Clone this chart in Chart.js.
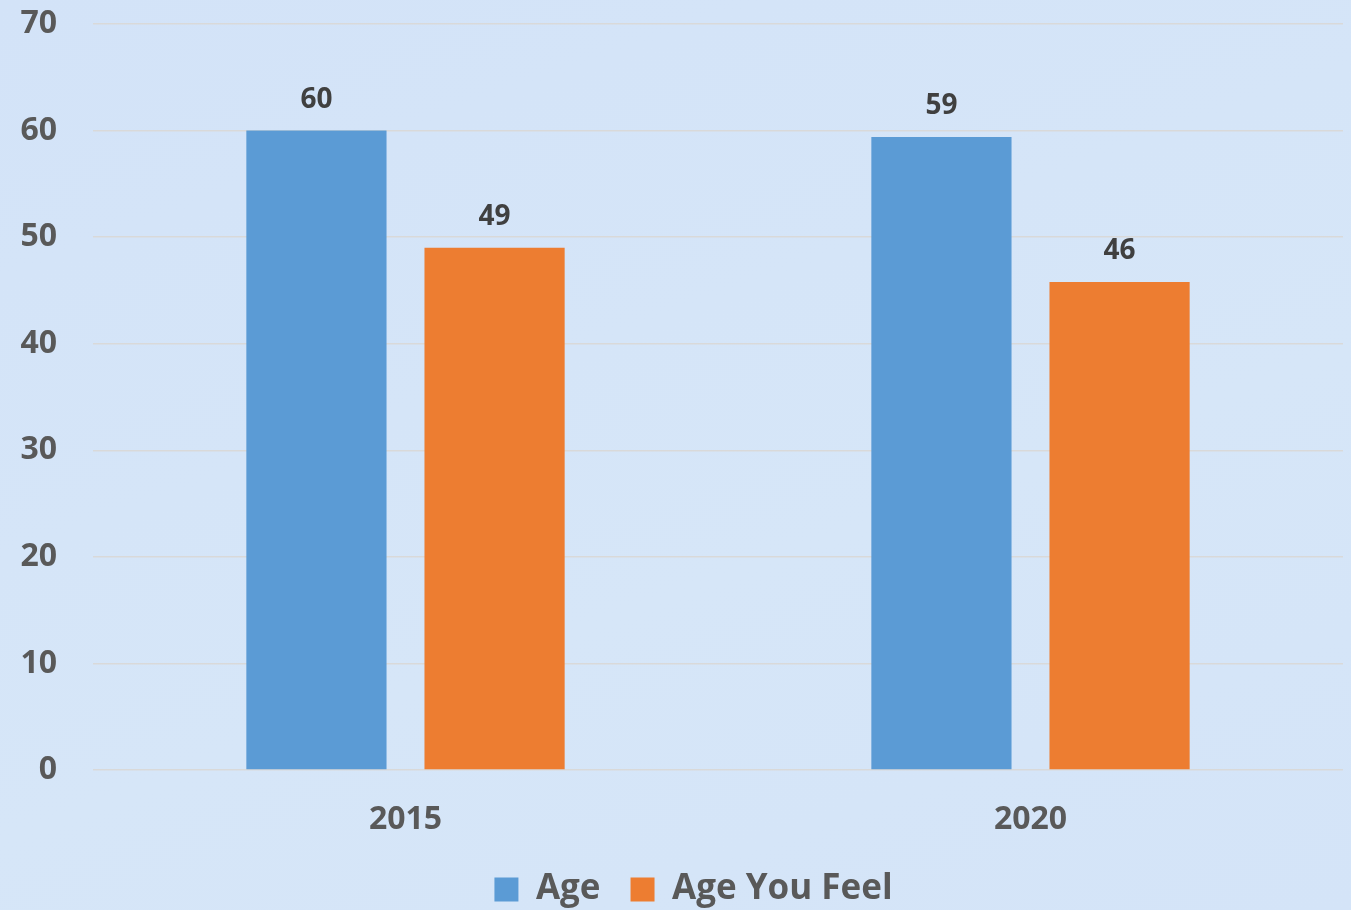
<!DOCTYPE html>
<html>
<head>
<meta charset="utf-8">
<script src="https://cdn.jsdelivr.net/npm/chart.js@4"></script>
<style>
  html, body { margin: 0; padding: 0; overflow: hidden; }
  body { background: linear-gradient(160deg, #d3e3f8 0%, #d6e6f8 60%, #d4e4f8 100%); }
  #wrap { width: 1351px; height: 910px; }
</style>
</head>
<body>
<div id="wrap"><canvas id="ageChart"></canvas></div>
<script>
// data
const years = ["2015", "2020"];
const ageValues = [60, 59.4];
const feelValues = [49, 45.8];
const yTicks = [0, 10, 20, 30, 40, 50, 60, 70];

const labelFont = "'Open Sans', 'Noto Sans', sans-serif";

// draws the number above each bar
const valueLabels = {
  id: "valueLabels",
  afterDatasetsDraw(chart) {
    const ctx = chart.ctx;
    ctx.save();
    ctx.font = "bold 28px " + labelFont;
    ctx.fillStyle = "#404040";
    ctx.textAlign = "center";
    ctx.textBaseline = "middle";
    chart.data.datasets.forEach((ds, i) => {
      chart.getDatasetMeta(i).data.forEach((bar, j) => {
        ctx.fillText(Math.round(ds.data[j]), bar.x, bar.y - 31);
      });
    });
    ctx.restore();
  }
};

// legend in the original sits a bit right of centre
const nudgeLegend = {
  id: "nudgeLegend",
  afterLayout(chart) {
    if (!chart.legend) return;
    chart.legend.left += 22;
    chart.legend.right += 22;
  }
};

const ctx = document.getElementById("ageChart").getContext("2d");
new Chart(ctx, {
  type: "bar",
  data: {
    labels: years,
    datasets: [
      { label: "Age", data: ageValues, backgroundColor: "#5b9bd5" },
      { label: "Age You Feel", data: feelValues, backgroundColor: "#ed7d31" }
    ]
  },
  options: {
    responsive: true,
    maintainAspectRatio: false,
    animation: false,
    categoryPercentage: 0.57,
    barPercentage: 0.787,
    layout: { padding: { top: 24, right: 8, left: 0, bottom: -7 } },
    plugins: {
      tooltip: { enabled: false },
      legend: {
        position: "bottom",
        labels: {
          boxWidth: 24,
          boxHeight: 24,
          padding: 30,
          color: "#595959",
          font: { family: labelFont, size: 35, weight: "bold" }
        }
      }
    },
    scales: {
      x: {
        afterFit(scale) { scale.height = 72; },
        grid: { display: false },
        border: { display: false },
        ticks: {
          color: "#595959",
          padding: 23,
          font: { family: labelFont, size: 32, weight: "bold" }
        }
      },
      y: {
        min: 0,
        max: 70,
        afterFit(scale) { scale.width = 93; },
        afterBuildTicks(scale) { scale.ticks = yTicks.map(v => ({ value: v })); },
        grid: { color: "#d9d9d9", lineWidth: 1.5, drawTicks: true, tickLength: 32, tickColor: "rgba(0,0,0,0)" },
        border: { display: false },
        ticks: {
          color: "#595959",
          padding: 4,
          font: { family: labelFont, size: 32, weight: "bold" }
        }
      }
    }
  },
  plugins: [valueLabels, nudgeLegend]
});
</script>
</body>
</html>
